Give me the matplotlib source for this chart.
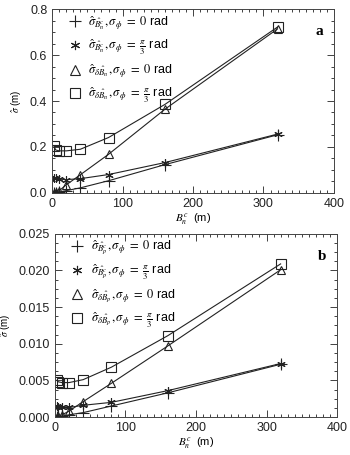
import matplotlib
matplotlib.use("Agg")
import matplotlib.pyplot as plt
from matplotlib.ticker import MultipleLocator

plt.rcParams['font.family'] = ['Liberation Sans', 'DejaVu Sans']
plt.rcParams['mathtext.fontset'] = 'stix'

x = [2.5, 5, 10, 20, 40, 80, 160, 320]

# panel a
a_plus = [0.0, 0.0, 0.004, 0.01, 0.022, 0.053, 0.123, 0.253]
a_star = [0.065, 0.063, 0.06, 0.058, 0.062, 0.08, 0.132, 0.256]
a_tri = [0.0, 0.002, 0.01, 0.035, 0.079, 0.168, 0.364, 0.714]
a_sq = [0.204, 0.187, 0.183, 0.183, 0.19, 0.241, 0.385, 0.722]

# panel b
b_plus = [0.0, 0.0, 0.0001, 0.0003, 0.0006, 0.0015, 0.0033, 0.0072]
b_star = [0.0015, 0.0014, 0.0013, 0.0013, 0.0016, 0.002, 0.0036, 0.0073]
b_tri = [0.0, 0.0001, 0.0003, 0.0008, 0.0021, 0.0046, 0.0097, 0.0201]
b_sq = [0.0050, 0.0048, 0.0047, 0.0047, 0.0051, 0.0068, 0.0111, 0.0209]

labels_a = [r'$\hat{\sigma}_{\hat{B}^{c}_{n}},\sigma_{\phi}\ =\ 0$ rad',
            r'$\hat{\sigma}_{\hat{B}^{c}_{n}},\sigma_{\phi}\ =\ \frac{\pi}{3}$ rad',
            r'$\hat{\sigma}_{\delta\hat{B}_{n}},\sigma_{\phi}\ =\ 0$ rad',
            r'$\hat{\sigma}_{\delta\hat{B}_{n}},\sigma_{\phi}\ =\ \frac{\pi}{3}$ rad']
labels_b = [r'$\hat{\sigma}_{\hat{B}^{c}_{p}},\sigma_{\phi}\ =\ 0$ rad',
            r'$\hat{\sigma}_{\hat{B}^{c}_{p}},\sigma_{\phi}\ =\ \frac{\pi}{3}$ rad',
            r'$\hat{\sigma}_{\delta\hat{B}_{p}},\sigma_{\phi}\ =\ 0$ rad',
            r'$\hat{\sigma}_{\delta\hat{B}_{p}},\sigma_{\phi}\ =\ \frac{\pi}{3}$ rad']

fig = plt.figure(figsize=(3.5, 4.55), dpi=100)
ax1 = fig.add_axes([0.149, 0.576, 0.805, 0.404])
ax2 = fig.add_axes([0.157, 0.0835, 0.806, 0.4025])

markers = ['+', (6, 2, 0), '^', 's']
msizes = [8, 6, 6, 6.5]

def draw(ax, series, labels, ymax, ymaj, ymin, fmt, tag):
    for ys, m, ms, lab in zip(series, markers, msizes, labels):
        ax.plot(x, ys, color='#222222', lw=0.8, marker=m, ms=ms,
                mfc='none', mec='#222222', mew=0.8, label=lab)
    ax.set_xlim(0, 400)
    ax.set_ylim(0, ymax)
    ax.xaxis.set_major_locator(MultipleLocator(100))
    ax.xaxis.set_minor_locator(MultipleLocator(10))
    ax.yaxis.set_major_locator(MultipleLocator(ymaj))
    ax.yaxis.set_minor_locator(MultipleLocator(ymin))
    ax.yaxis.set_major_formatter(plt.FormatStrFormatter(fmt))
    ax.tick_params(which='both', direction='in', top=True, right=True,
                   labelsize=9, colors='#222222', width=0.6)
    ax.tick_params(which='major', length=5)
    ax.tick_params(which='minor', length=2.5)
    for s in ax.spines.values():
        s.set_linewidth(0.7)
        s.set_color('#444444')
    ax.set_xlabel(r'$B_n^c$  (m)', fontsize=8, labelpad=1)
    ax.set_ylabel(r'$\hat{\sigma}$ (m)', fontsize=7, labelpad=4)
    leg = ax.legend(loc='upper left', frameon=False, fontsize=9,
                    handlelength=1.0, handletextpad=0.6, labelspacing=0.45,
                    borderaxespad=0.0, markerscale=1.1,
                    bbox_to_anchor=(0.04, 1.0))
    for h in leg.legend_handles:
        h.set_linestyle('none')
    ax.text(0.96, 0.86, tag, transform=ax.transAxes, fontsize=11,
            fontweight='bold', family='Liberation Serif', ha='right')

draw(ax1, [a_plus, a_star, a_tri, a_sq], labels_a, 0.8, 0.2, 0.05, '%.1f', 'a')
draw(ax2, [b_plus, b_star, b_tri, b_sq], labels_b, 0.025, 0.005, 0.00125, '%.3f', 'b')

fig.savefig('out.png', dpi=100)
